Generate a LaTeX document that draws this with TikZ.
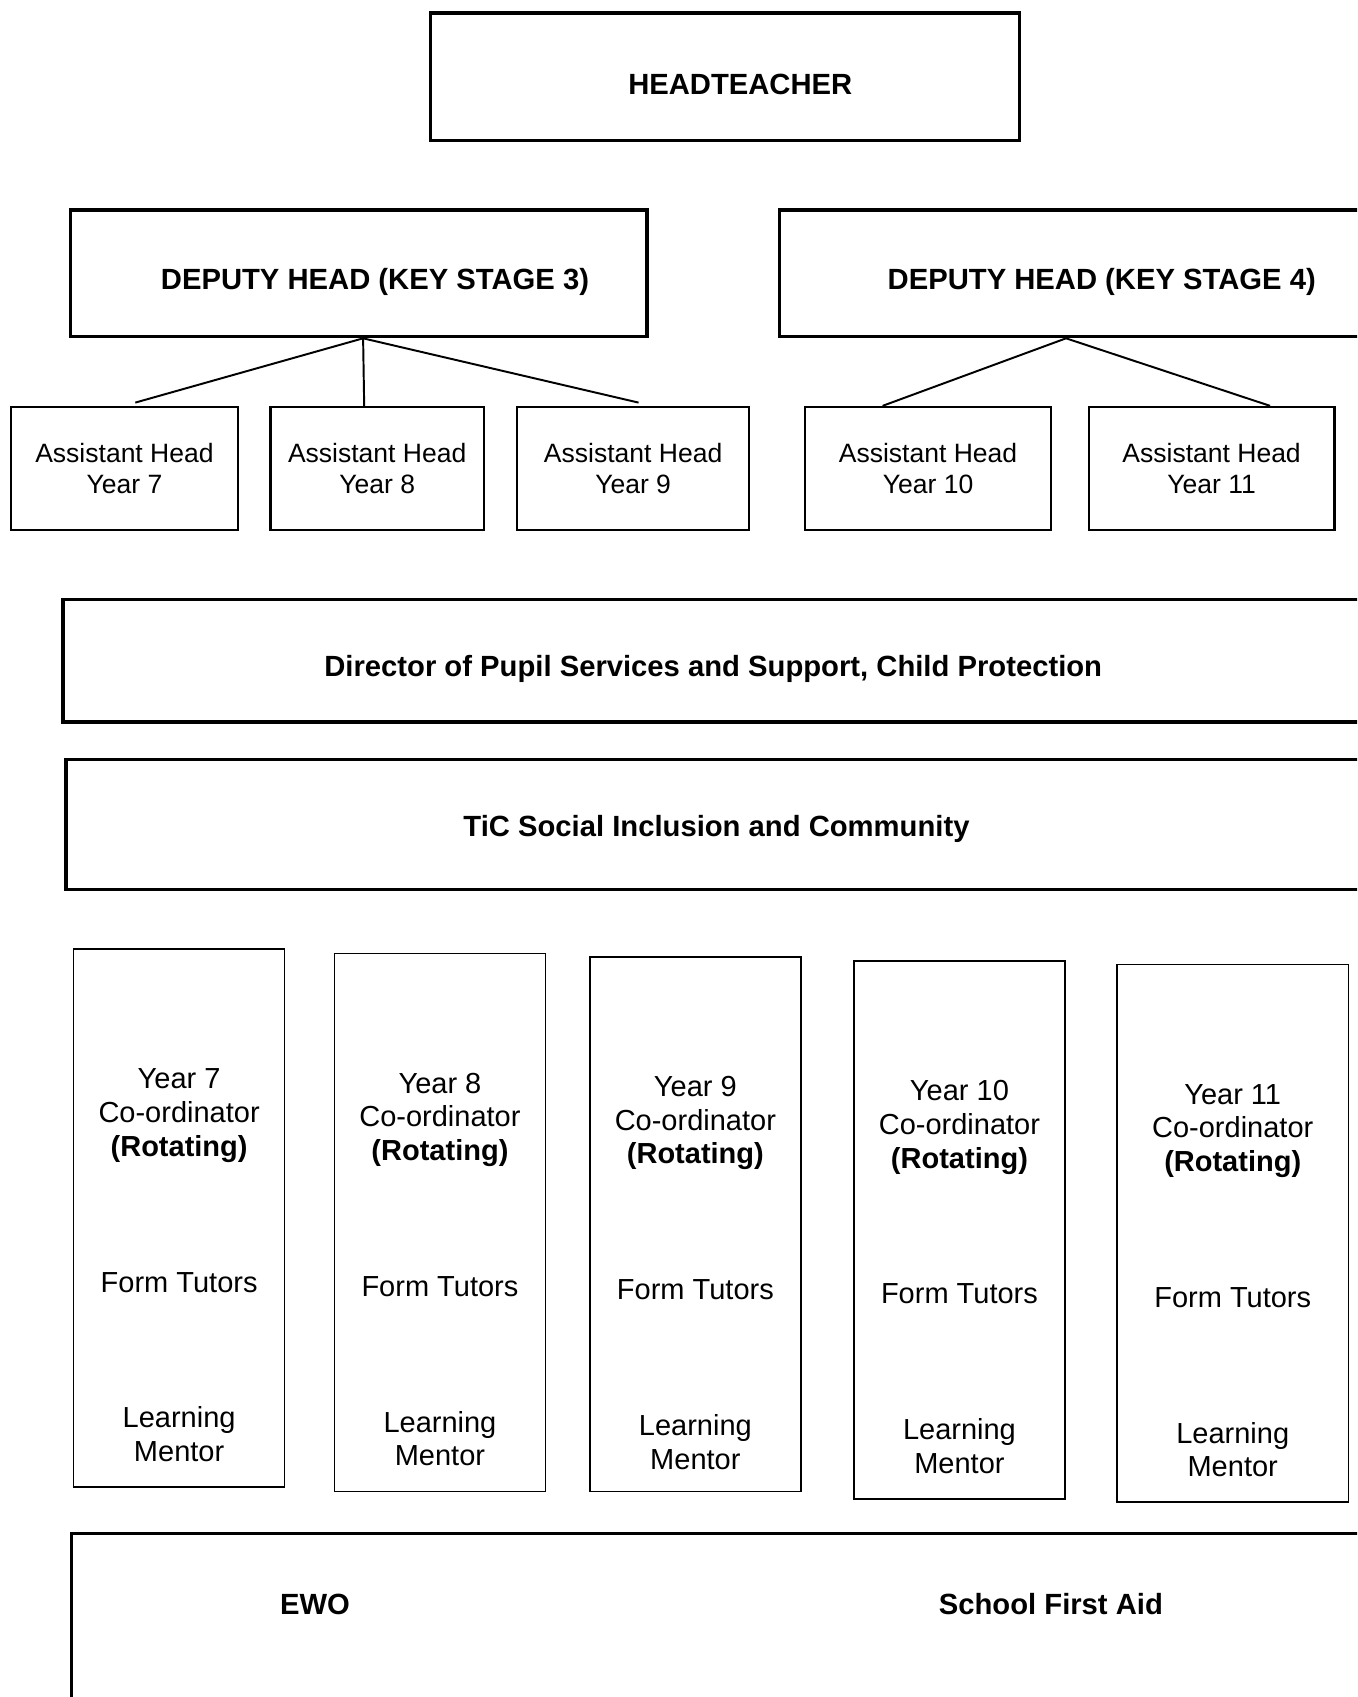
\documentclass[tikz,border=0pt]{standalone}
\usepackage{fontspec}
\setmainfont{Liberation Sans}
\usetikzlibrary{
  calc,
  positioning,
}
\newcommand{\hdfont}{\fontsize{13.5pt}{16pt}\selectfont\bfseries}
\newcommand{\ahfont}{\fontsize{12.25pt}{14.5pt}\selectfont}
\newcommand{\cofont}{\fontsize{13.4pt}{15.5pt}\selectfont}

\begin{document}
\begin{tikzpicture}[x=0.5pt,y=-0.5pt,
    bigbox/.style={draw,rectangle,line width=1.6pt},
    boxtitle/.style={font=\hdfont,align=center},
    ahbox/.style={draw,rectangle,line width=1pt,minimum height=57pt,font=\ahfont,align=center},
    coordbox/.style={draw,rectangle,line width=0.75pt,minimum width=97.5pt,minimum height=248.5pt},
    coordtext/.style={font=\cofont,align=center},
    link/.style={line width=0.9pt}]

        \clip (0,0) rectangle (1254,1568);

        % senior staff
        \node[bigbox,minimum width=272pt,minimum height=59pt]    (head)    at (670,71)       {};
        \node[boxtitle]    (headtxt)    at ($(head.center)+(14,7)$)    {HEADTEACHER};
        \node[bigbox,minimum width=266.5pt,minimum height=58.5pt]    (dh3)    at (331.5,252.5)    {};
        \node[boxtitle]    (dh3txt)    at ($(dh3.center)+(15,8)$)    {DEPUTY HEAD (KEY STAGE 3)};
        \node[bigbox,minimum width=298pt,minimum height=58.5pt]    (dh4)    at (1018,252.5)    {};
        \node[boxtitle]    (dh4txt)    at ($(dh4.center)+(0,8)$)    {DEPUTY HEAD (KEY STAGE 4)};

        \node[ahbox,minimum width=105pt]      (ah7)     at (115,433)      {Assistant Head\\Year 7};
        \node[ahbox,minimum width=98.5pt]     (ah8)     at (348.5,433)    {Assistant Head\\Year 8};
        \node[ahbox,minimum width=107pt]      (ah9)     at (585,433)      {Assistant Head\\Year 9};
        \node[ahbox,minimum width=113.5pt]    (ah10)    at (857.5,433)    {Assistant Head\\Year 10};
        \node[ahbox,minimum width=113.5pt]    (ah11)    at (1119.5,433)   {Assistant Head\\Year 11};

        \draw[link] ([xshift=2pt]dh3.south) -- ([xshift=5pt,yshift=1.5pt]ah7.north);
        \draw[link] ([xshift=2pt]dh3.south) -- ([xshift=-6pt]ah8.north);
        \draw[link] ([xshift=2pt]dh3.south) -- ([xshift=2.5pt,yshift=1.5pt]ah9.north);
        \draw[link] ([xshift=-16.5pt]dh4.south) -- ([xshift=-21pt]ah10.north);
        \draw[link] ([xshift=-16.5pt]dh4.south) -- ([xshift=27pt]ah11.north);

        % pupil support
        \node[bigbox,minimum width=601pt,minimum height=56.5pt]    (dps)    at (659,610.5)    {};
        \node[boxtitle]    (dpstxt)    at ($(dps.center)+(0,7.5)$)    {Director of Pupil Services and Support, Child Protection};
        \node[bigbox,minimum width=601pt,minimum height=60pt]    (tic)    at (662,762)    {};
        \node[boxtitle]    (tictxt)    at ($(tic.center)+(0,4)$)    {TiC Social Inclusion and Community};

        % year teams
        \node[coordbox]    (c7)     at (165.5,1125.5)    {};
        \node[coordbox]    (c8)     at (406.5,1129.5)    {};
        \node[coordbox,minimum height=247pt]    (c9)     at (642.5,1131)    {};
        \node[coordbox]    (c10)    at (886.5,1136.5)    {};
        \node[coordbox,minimum width=107pt]     (c11)    at (1139,1139.5)   {};

        \node[coordtext]    (c7a)    at ($(c7.north)+(0,154.5)$)    {Year 7\\Co-ordinator\\\textbf{(Rotating)}};
        \node[coordtext]    (c7b)    at ($(c7.north)+(0,308.5)$)    {Form Tutors};
        \node[coordtext]    (c7c)    at ($(c7.north)+(0,449)$)      {Learning\\Mentor};
        \node[coordtext]    (c8a)    at ($(c8.north)+(0,154.5)$)    {Year 8\\Co-ordinator\\\textbf{(Rotating)}};
        \node[coordtext]    (c8b)    at ($(c8.north)+(0,308.5)$)    {Form Tutors};
        \node[coordtext]    (c8c)    at ($(c8.north)+(0,449)$)      {Learning\\Mentor};
        \node[coordtext]    (c9a)    at ($(c9.north)+(0,154.5)$)    {Year 9\\Co-ordinator\\\textbf{(Rotating)}};
        \node[coordtext]    (c9b)    at ($(c9.north)+(0,308.5)$)    {Form Tutors};
        \node[coordtext]    (c9c)    at ($(c9.north)+(0,449)$)      {Learning\\Mentor};
        \node[coordtext]    (c10a)   at ($(c10.north)+(0,154.5)$)   {Year 10\\Co-ordinator\\\textbf{(Rotating)}};
        \node[coordtext]    (c10b)   at ($(c10.north)+(0,308.5)$)   {Form Tutors};
        \node[coordtext]    (c10c)   at ($(c10.north)+(0,449)$)     {Learning\\Mentor};
        \node[coordtext]    (c11a)   at ($(c11.north)+(0,154.5)$)   {Year 11\\Co-ordinator\\\textbf{(Rotating)}};
        \node[coordtext]    (c11b)   at ($(c11.north)+(0,308.5)$)   {Form Tutors};
        \node[coordtext]    (c11c)   at ($(c11.north)+(0,449)$)     {Learning\\Mentor};

        % other support
        \node[bigbox,minimum width=602pt,minimum height=101.5pt]    (other)    at (668,1518.5)    {};
        \node[boxtitle]    (ewo)        at (291,1482)    {EWO};
        \node[boxtitle]    (firstaid)   at (971,1482)    {School First Aid};

    \end{tikzpicture}
\end{document}
